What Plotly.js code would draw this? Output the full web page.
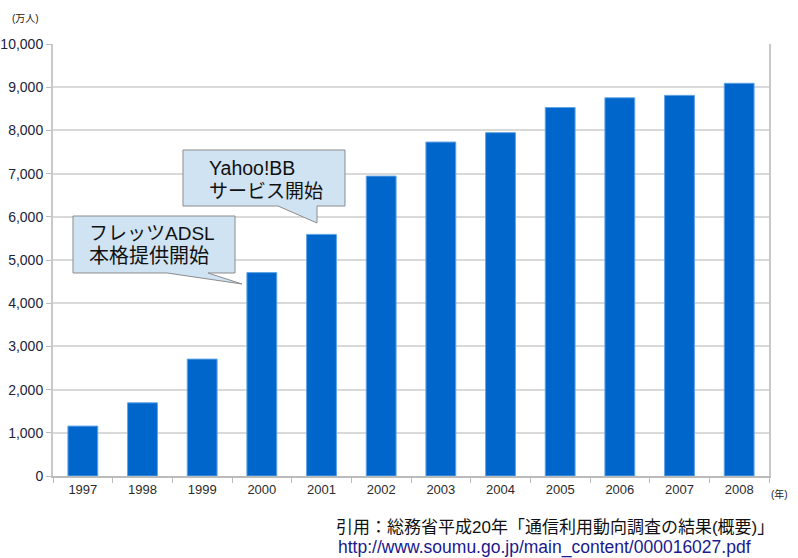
<!DOCTYPE html>
<html>
<head>
<meta charset="utf-8">
<script src="https://cdn.plot.ly/plotly-3.0.1.min.js"></script>
<style>html,body{margin:0;padding:0;background:#fff;}#chart{width:798px;height:558px;}</style>
</head>
<body>
<div id="chart"></div>
<script>
const years = ["1997","1998","1999","2000","2001","2002","2003","2004","2005","2006","2007","2008"];
const users = [1155,1694,2706,4708,5593,6942,7730,7948,8529,8754,8811,9091];
const yTicks = [0,1000,2000,3000,4000,5000,6000,7000,8000,9000,10000];

const W = 798, H = 558;
const M = {l:53, r:29, t:44, b:82};
const PW = W - M.l - M.r, PH = H - M.t - M.b;
const px = x => (x - M.l) / PW;
const py = y => (H - M.b - y) / PH;

function callout(x0, y0, x1, y1, tx0, tip, tx1) {
  const pts = [[x0,y0],[x1,y0],[x1,y1],[tx1,y1],[tip[0],tip[1]],[tx0,y1],[x0,y1]];
  return {
    type:'path', xref:'paper', yref:'paper', layer:'above',
    path: 'M' + pts.map(p => px(p[0]).toFixed(5) + ',' + py(p[1]).toFixed(5)).join(' L') + ' Z',
    fillcolor:'#cfe3f3', line:{color:'#8c8c8c', width:1}
  };
}

const jp = '"Liberation Sans", "Noto Sans CJK JP", Arial, sans-serif';
const lat = '"Liberation Sans", Arial, sans-serif';

const data = [{
  type:'bar', x: years, y: users,
  marker:{color:'#0066cc', line:{color:'#5fa3e6', width:1}},
  hoverinfo:'none'
}];

function txt(x, y, s, size, color, fam) {
  return {xref:'paper', yref:'paper', x:px(x), y:py(y), xanchor:'left', yanchor:'middle',
          showarrow:false, text:s, font:{family:fam || jp, size:size, color:color || '#111'}};
}

const layout = {
  width: W, height: H,
  margin: M,
  paper_bgcolor:'#fff', plot_bgcolor:'#fff',
  showlegend:false,
  bargap:0.5,
  font:{family:lat, color:'#333', size:13},
  xaxis:{
    type:'category', tickson:'boundaries', ticks:'outside', ticklen:5, tickcolor:'#bbb',
    showgrid:false, showline:true, linecolor:'#bbb', linewidth:2,
    tickfont:{family:lat, size:13, color:'#2b2b2b'}, fixedrange:true
  },
  yaxis:{
    range:[0,10000], tickvals:yTicks, tickformat:',d', ticks:'outside', ticklen:5, tickcolor:'#bbb',
    showgrid:true, gridcolor:'#d9d9d9', gridwidth:2, zeroline:false,
    showline:true, linecolor:'#c8c8c8', linewidth:2, mirror:true,
    tickfont:{family:lat, size:14, color:'#22223a'}, fixedrange:true
  },
  shapes:[
    callout(183, 150, 345, 206, 278, [317,223], 317),
    callout(73, 216, 235, 273, 167, [242,284], 208)
  ],
  annotations:[
    txt(207, 168, 'Yahoo!BB', 19.5),
    txt(207, 191, 'サービス開始', 19),
    txt(87, 233, 'フレッツADSL', 19),
    txt(87, 256, '本格提供開始', 20),
    txt(10, 18, '(万人)', 10, '#222'),
    txt(769, 494, '(年)', 10, '#222'),
    txt(334, 527, '引用：総務省平成20年「通信利用動向調査の結果(概要)」', 17),
    txt(336, 547, 'http://www.soumu.go.jp/main_content/000016027.pdf', 17.5, '#1a1a8c', lat)
  ]
};

Plotly.newPlot('chart', data, layout, {staticPlot:true, displayModeBar:false});
</script>
</body>
</html>
